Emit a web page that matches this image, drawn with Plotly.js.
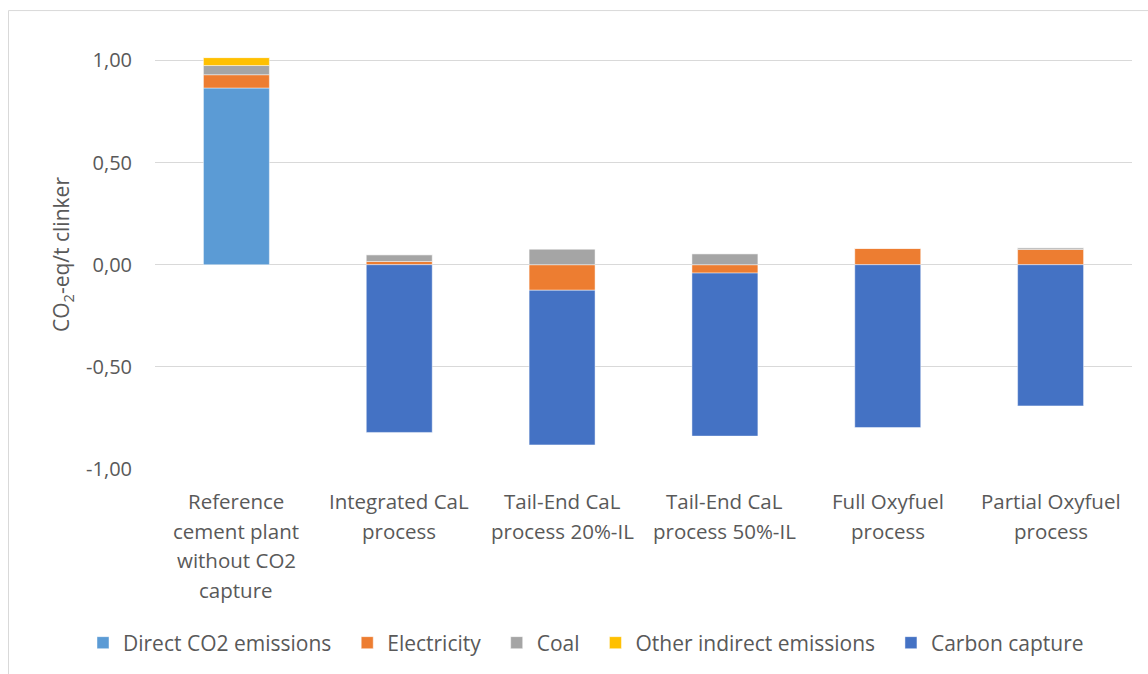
<!DOCTYPE html>
<html>
<head>
<meta charset="utf-8">
<script src="https://cdn.plot.ly/plotly-3.0.1.min.js"></script>
<style>
html,body{margin:0;padding:0;background:#fff;}
#chart{width:1148px;height:674px;}
</style>
</head>
<body>
<div id="chart"></div>
<script>
// ---- data ----
const categories = [
  'Reference cement plant without CO2 capture',
  'Integrated CaL process',
  'Tail-End CaL process 20%-IL',
  'Tail-End CaL process 50%-IL',
  'Full Oxyfuel process',
  'Partial Oxyfuel process'
];
const categoryLines = [
  ['Reference', 'cement plant', 'without CO2', 'capture'],
  ['Integrated CaL', 'process'],
  ['Tail-End CaL', 'process 20%-IL'],
  ['Tail-End CaL', 'process 50%-IL'],
  ['Full Oxyfuel', 'process'],
  ['Partial Oxyfuel', 'process']
];
const directCO2      = [0.865, 0, 0, 0, 0, 0];
const electricity    = [0.065, 0.016, -0.125, -0.041, 0.081, 0.075];
const coal           = [0.045, 0.033, 0.077, 0.054, 0, 0.008];
const otherIndirect  = [0.039, 0, 0, 0, 0, 0];
const carbonCapture  = [0, -0.821, -0.757, -0.798, -0.797, -0.691];
const seriesNames = ['Direct CO2 emissions', 'Electricity', 'Coal', 'Other indirect emissions', 'Carbon capture'];
const tickValues = [-1, -0.5, 0, 0.5, 1];
const tickLabels = ['-1,00', '-0,50', '0,00', '0,50', '1,00'];

// ---- styles ----
const colors = ['#5B9BD5', '#ED7D31', '#A5A5A5', '#FFC000', '#4472C4'];
const textColor = '#595959';
const fontFamily = '"Open Sans", "Noto Sans", sans-serif';
const series = [directCO2, electricity, coal, otherIndirect, carbonCapture];
const legendPad = '\u00a0\u00a0';

const traces = series.map((vals, i) => ({
  type: 'bar',
  name: seriesNames[i] + legendPad,
  x: categories,
  y: vals,
  marker: {color: colors[i], line: {color: 'rgba(255,255,255,0.45)', width: 1}},
  hoverinfo: 'x+y+name'
}));

const annotations = [];
categoryLines.forEach((lines, ci) => {
  lines.forEach((ln, li) => {
    annotations.push({
      x: categories[ci], xref: 'x',
      y: 0, yref: 'paper',
      yanchor: 'middle', xanchor: 'center',
      yshift: -(32 + 29.7 * li),
      text: ln, showarrow: false,
      font: {family: fontFamily, size: 20.5, color: textColor}
    });
  });
});

const plotL = 155, plotR = 16, plotT = 40, plotB = 204;
const plotW = 1148 - plotL - plotR, plotH = 674 - plotT - plotB;

const layout = {
  width: 1148, height: 674,
  margin: {l: plotL, r: plotR, t: plotT, b: plotB, pad: 0},
  paper_bgcolor: '#ffffff', plot_bgcolor: '#ffffff',
  font: {family: fontFamily, size: 20, color: textColor},
  barmode: 'relative',
  bargap: 0.595,
  showlegend: true,
  legend: {
    orientation: 'h',
    x: (83 - plotL) / plotW, xanchor: 'left',
    y: -(643 - (plotT + plotH)) / plotH, yanchor: 'middle',
    font: {family: fontFamily, size: 21, color: textColor},
    traceorder: 'normal',
    bgcolor: 'rgba(0,0,0,0)'
  },
  xaxis: {
    type: 'category',
    showticklabels: false,
    showgrid: false, zeroline: false, showline: false, ticks: ''
  },
  yaxis: {
    range: [-1, 1.1],
    tickvals: tickValues,
    ticktext: tickLabels,
    showgrid: true, gridcolor: '#d9d9d9', gridwidth: 1.3,
    zeroline: false, showline: false, ticks: '',
    ticklabelstandoff: 22,
    tickfont: {family: fontFamily, size: 20, color: textColor},
    title: {text: 'CO<sub>2</sub>-eq/t clinker', standoff: 10,
            font: {family: fontFamily, size: 21, color: textColor}}
  },
  annotations: annotations,
  shapes: [{
    type: 'rect', xref: 'paper', yref: 'paper',
    x0: (8.5 - plotL) / plotW, x1: (1160 - plotL) / plotW,
    y0: -(700 - (plotT + plotH)) / plotH, y1: ((plotT + plotH) - 10.5) / plotH,
    line: {color: '#d9d9d9', width: 1}, fillcolor: 'rgba(0,0,0,0)', layer: 'below'
  }]
};

Plotly.newPlot('chart', traces, layout, {displayModeBar: false, responsive: false});
</script>
</body>
</html>
